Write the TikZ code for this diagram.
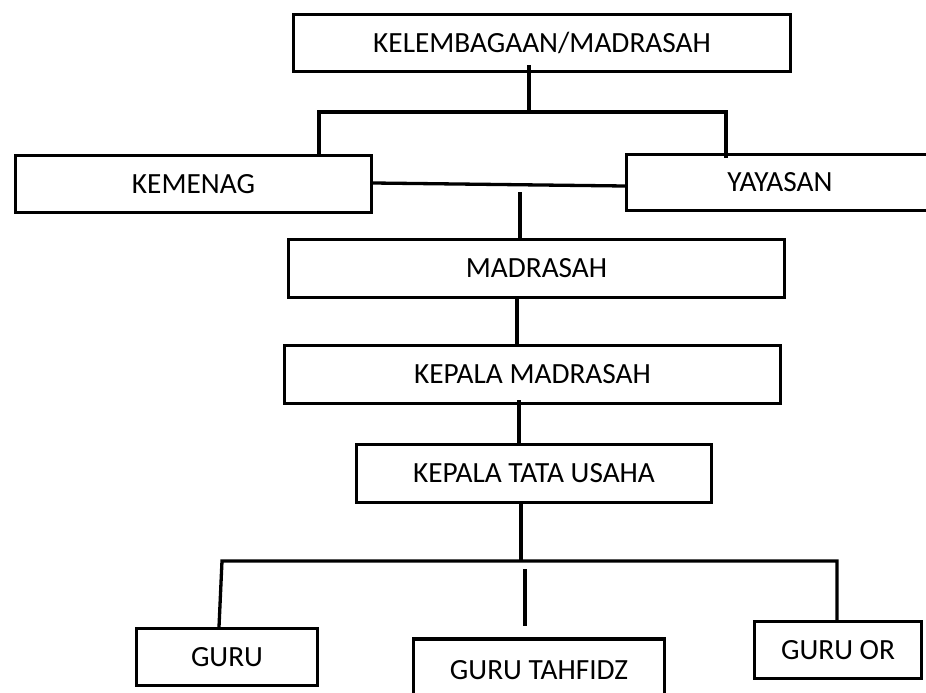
\documentclass[tikz,border=0pt]{standalone}
\usepackage{fontspec}
\setmainfont{Carlito}
\begin{document}
\begin{tikzpicture}[x=1pt,y=-1pt,
  box/.style={draw, line width=3.3pt, rectangle, inner sep=0pt,
    font=\fontsize{29.3}{35}\selectfont, text height=18.8pt, text depth=0pt},
  conn/.style={line width=3.3pt, line join=miter}]
\useasboundingbox (0,0) rectangle (926,693);
% boxes
\node[box, minimum width=497, minimum height=57] (lemb) at (542,43) {KELEMBAGAAN/MADRASAH};
\node[box, minimum width=356, minimum height=57] (kemenag) at (193.5,184) {KEMENAG};
\node[box, minimum width=307, minimum height=56] (yayasan) at (780,182.5) {YAYASAN};
\node[box, minimum width=496, minimum height=58] (madrasah) at (536.5,268.5) {MADRASAH};
\node[box, minimum width=496, minimum height=58] (kepmad) at (532.5,374.5) {KEPALA MADRASAH};
\node[box, minimum width=355, minimum height=58] (ktu) at (534,473.5) {KEPALA TATA USAHA};
\node[box, minimum width=181, minimum height=57] (guru) at (227,657) {GURU};
\node[box, minimum width=251, minimum height=62] (tahfidz) at (539,670) {GURU TAHFIDZ};
\node[box, minimum width=167, minimum height=57] (guruor) at (838,650) {GURU OR};
% junction coordinates
\coordinate (j0) at (529,112);
\coordinate (jl) at (319,112);
\coordinate (jr) at (726,112);
\coordinate (m1) at (520,192);
\coordinate (m2) at (517,0);
\coordinate (m3) at (519,0);
\coordinate (t0) at (521,561);
\coordinate (gl) at (222,561);
\coordinate (gr) at (837,561);
\coordinate (gb) at (219,0);
\coordinate (c1) at (525,569);
\coordinate (c2) at (525,626);
% connectors
\draw[conn] ([yshift=8]lemb.south -| j0) -- (j0);
\draw[conn] (kemenag.north -| jl) -- (jl) -- (jr) -- ([yshift=-5]yayasan.north -| jr);
\draw[conn] ([yshift=1]kemenag.east) -- ([yshift=-3.5]yayasan.west);
\draw[conn] (m1) -- (madrasah.north -| m1);
\draw[conn] (madrasah.south -| m2) -- (kepmad.north -| m2);
\draw[conn] ([yshift=5]kepmad.south -| m3) -- (ktu.north -| m3);
\draw[conn] (ktu.south -| t0) -- (t0);
\draw[conn] (guru.north -| gb) -- (gl) -- (gr) -- (guruor.north -| gr);
\draw[conn] (c1) -- (c2);
\end{tikzpicture}
\end{document}
